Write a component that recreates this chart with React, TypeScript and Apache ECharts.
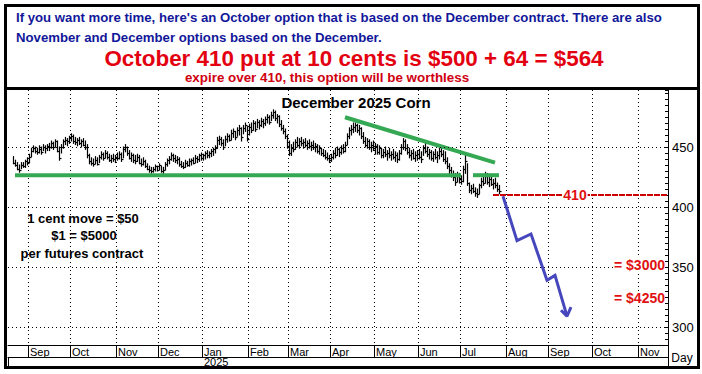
import React, { useEffect, useRef } from "react";
import * as echarts from "echarts";

// ---------- data ----------
const monthNames = ["Jan", "Feb", "Mar", "Apr", "May", "Jun", "Jul", "Aug", "Sep", "Oct", "Nov", "Dec"];
const axisStart = "2024-08-19"; // first trading-day slot on the axis
const axisDays = 330; // trading-day slots shown (through late Nov 2025)
const barStartIndex = 2; // first bar sits on the 3rd slot

const highs = [
  442, 439, 437, 435, 437, 437, 439, 441, 444,
  449, 451, 450, 449, 451, 450, 452, 451, 452, 453,
  455, 454, 456, 455, 450, 452, 456, 458, 457, 459,
  461, 460, 458, 457, 458, 456, 457, 455, 452, 444,
  441, 440, 442, 441, 443, 446, 445, 447, 446, 444,
  443, 444, 443, 445, 446, 445, 450, 452, 450, 447,
  445, 444, 443, 444, 443, 440, 441, 439, 436, 434,
  433, 433, 435, 434, 436, 434, 433, 437, 440, 442,
  445, 444, 443, 442, 441, 438, 437, 439, 438, 440,
  440, 441, 443, 442, 444, 445, 444, 446, 447, 446,
  448, 449, 451, 458, 459, 458, 456, 459, 461, 460,
  464, 465, 463, 466, 468, 466, 468, 470, 467, 469,
  470, 472, 471, 473, 472, 474, 473, 475, 477, 476,
  479, 481, 480, 477, 476, 472, 468, 465, 460, 455,
  452, 454, 456, 458, 457, 458, 456, 457, 455, 456,
  454, 455, 453, 452, 451, 449, 448, 447, 445, 443,
  444, 447, 449, 450, 449, 451, 452, 454, 461, 466,
  468, 470, 470, 469, 468, 466, 462, 458, 457, 456,
  454, 455, 453, 452, 451, 449, 448, 450, 447, 449,
  446, 448, 446, 445, 447, 452, 457, 456, 452, 449,
  447, 448, 446, 447, 448, 446, 451, 453, 450, 448,
  447, 446, 448, 446, 449, 450, 447, 446, 441, 436,
  433, 430, 428, 429, 428, 426, 434, 445, 436, 420,
  418, 419, 416, 415, 419, 424, 427, 429, 428, 425,
  426, 423, 424, 420, 418,
];
const lows = [
  436, 434, 431, 429, 432, 433, 433, 435, 437,
  442, 446, 445, 444, 445, 444, 447, 445, 447, 447,
  449, 448, 450, 446, 439, 445, 449, 452, 451, 453,
  455, 453, 452, 451, 452, 450, 451, 448, 441, 436,
  435, 434, 436, 435, 437, 440, 439, 441, 440, 438,
  437, 438, 437, 439, 440, 438, 441, 446, 443, 440,
  438, 437, 436, 438, 436, 434, 435, 433, 431, 429,
  428, 429, 430, 430, 431, 429, 428, 431, 434, 436,
  439, 438, 437, 436, 434, 433, 432, 433, 434, 434,
  435, 436, 437, 437, 438, 439, 439, 440, 441, 441,
  442, 443, 445, 449, 452, 451, 448, 451, 454, 455,
  456, 458, 456, 459, 460, 455, 461, 463, 455, 460,
  462, 464, 463, 466, 465, 467, 466, 468, 470, 469,
  472, 474, 472, 470, 467, 464, 461, 457, 449, 443,
  443, 446, 448, 450, 449, 451, 449, 450, 448, 449,
  447, 448, 446, 445, 444, 443, 442, 440, 439, 437,
  438, 440, 441, 443, 442, 444, 445, 446, 452, 457,
  460, 462, 463, 462, 460, 457, 453, 450, 449, 448,
  446, 447, 444, 444, 444, 441, 441, 442, 439, 441,
  439, 440, 438, 437, 439, 444, 448, 447, 444, 441,
  439, 440, 438, 439, 440, 437, 443, 445, 442, 440,
  439, 438, 440, 437, 440, 442, 438, 436, 432, 428,
  425, 422, 418, 421, 420, 419, 421, 428, 418, 412,
  411, 412, 409, 408, 411, 416, 418, 420, 419, 417,
  418, 415, 416, 413, 411,
];
const closes = [
  437, 435, 432, 431, 435, 434, 438, 437, 442,
  447, 449, 447, 446, 448, 446, 450, 449, 451, 450,
  453, 450, 455, 447, 441, 450, 455, 456, 455, 458,
  459, 455, 454, 456, 453, 455, 452, 450, 443, 438,
  437, 436, 439, 436, 442, 444, 441, 445, 442, 439,
  441, 440, 442, 441, 444, 440, 448, 450, 445, 441,
  443, 439, 438, 442, 437, 436, 438, 434, 432, 431,
  430, 432, 434, 431, 435, 430, 431, 436, 439, 440,
  443, 441, 439, 440, 436, 434, 433, 437, 435, 438,
  439, 437, 441, 440, 443, 441, 443, 445, 443, 445,
  447, 448, 449, 456, 457, 453, 450, 457, 459, 456,
  462, 463, 458, 464, 466, 458, 466, 468, 457, 467,
  464, 470, 465, 471, 468, 472, 470, 473, 475, 471,
  477, 479, 474, 476, 469, 466, 463, 459, 451, 445,
  449, 448, 454, 452, 455, 453, 454, 452, 453, 451,
  452, 450, 451, 447, 449, 445, 443, 442, 441, 439,
  442, 445, 443, 448, 446, 449, 447, 452, 459, 464,
  465, 467, 468, 464, 466, 459, 455, 452, 455, 450,
  452, 449, 451, 446, 449, 443, 446, 444, 445, 443,
  444, 442, 443, 440, 445, 450, 455, 449, 446, 443,
  445, 441, 443, 444, 442, 440, 449, 447, 444, 446,
  441, 444, 442, 443, 447, 444, 440, 438, 434, 431,
  427, 425, 421, 426, 423, 422, 432, 438, 420, 414,
  416, 413, 412, 411, 418, 422, 420, 426, 421, 423,
  419, 420, 418, 415, 413,
];

const priceTicks = [300, 350, 400, 450];
const supportLevel = 426.5;
const supportSegments = [
  [3, 226],
  [232, 245],
];
const trendLine = [
  [168, 474.8],
  [243, 437],
];
const strikeLevel = 410;
const strikeRange = [242, 329];
const projection = [
  [247, 409],
  [254, 372],
  [261, 377.5],
  [269, 339],
  [273, 343],
  [279, 309],
];
const arrowHead = [
  [276, 314],
  [279, 309],
  [281, 316.5],
];

// ---------- helpers ----------
function weekdays(start: string, n: number): string[] {
  const out: string[] = [];
  const d = new Date(start + "T00:00:00Z");
  while (out.length < n) {
    const wd = d.getUTCDay();
    if (wd !== 0 && wd !== 6) out.push(d.toISOString().slice(0, 10));
    d.setUTCDate(d.getUTCDate() + 1);
  }
  return out;
}

const dates = weekdays(axisStart, axisDays);
const isMonthStart = (i: number) => i > 0 && dates[i].slice(5, 7) !== dates[i - 1].slice(5, 7);
const isYearStart = (i: number) => i > 0 && dates[i].slice(0, 4) !== dates[i - 1].slice(0, 4);

const barData = highs.map((h, k) => [barStartIndex + k, h, lows[k], closes[k]]);

const FONT = '"Liberation Sans", Arial, Helvetica, sans-serif';
const BLUE = "#12179a";
const RED = "#e30010";
const GREEN = "#34a853";

export default function App() {
  const ref = useRef<HTMLDivElement>(null);

  useEffect(() => {
    if (!ref.current) return;
    const chart = echarts.init(ref.current, null, { renderer: "svg" });

    const dotted = { color: "#000", width: 1, type: [1, 3] as any };

    const option: any = {
      animation: false,
      backgroundColor: "#fff",
      grid: { left: 8, right: 34, top: 90, bottom: 29, containLabel: false },
      xAxis: [
        {
          type: "category",
          data: dates,
          boundaryGap: true,
          position: "bottom",
          axisLine: { show: true, lineStyle: { color: "#000", width: 1 } },
          axisTick: { show: true, interval: (i: number) => isMonthStart(i), length: 12, lineStyle: { color: "#000" } },
          axisLabel: {
            show: true,
            interval: (i: number) => isMonthStart(i),
            formatter: (v: string) => monthNames[parseInt(v.slice(5, 7), 10) - 1],
            align: "left",
            margin: 1,
            fontSize: 11,
            lineHeight: 11,
            color: "#000",
            fontFamily: FONT,
            padding: [0, 0, 0, 1],
          },
          splitLine: { show: true, interval: (i: number) => isMonthStart(i), lineStyle: dotted },
        },
        {
          type: "category",
          data: dates,
          boundaryGap: true,
          position: "bottom",
          offset: 12,
          axisLine: { show: true, lineStyle: { color: "#000", width: 1 } },
          axisTick: { show: true, interval: (i: number) => isYearStart(i), length: 11, lineStyle: { color: "#000" } },
          axisLabel: {
            show: true,
            interval: (i: number) => isYearStart(i),
            formatter: (v: string) => v.slice(0, 4),
            align: "left",
            margin: 0,
            fontSize: 11,
            lineHeight: 10,
            color: "#000",
            fontFamily: FONT,
            padding: [0, 0, 0, 1],
          },
          splitLine: { show: false },
        },
      ],
      yAxis: {
        type: "value",
        position: "right",
        min: 285,
        max: 497.5,
        interval: 5,
        axisLine: { show: true, lineStyle: { color: "#000", width: 1 } },
        axisTick: { show: true, inside: true, length: 3, lineStyle: { color: "#000" } },
        axisLabel: {
          formatter: (v: number) => (priceTicks.includes(v) ? String(v) : ""),
          margin: 4,
          fontSize: 13,
          color: "#000",
          fontFamily: FONT,
        },
        splitLine: { show: false },
      },
      series: [
        {
          type: "line",
          name: "grid",
          data: [],
          silent: true,
          markLine: {
            silent: true,
            symbol: "none",
            label: { show: false },
            lineStyle: dotted,
            data: priceTicks.map((p) => ({ yAxis: p })),
          },
        },
        {
          type: "custom",
          name: "December 2025 Corn",
          data: barData,
          encode: { x: 0, y: [1, 2, 3] },
          z: 3,
          renderItem: (_params: any, api: any) => {
            const i = api.value(0);
            const top = api.coord([i, api.value(1)]);
            const bot = api.coord([i, api.value(2)]);
            const cl = api.coord([i, api.value(3)]);
            const x = Math.round(top[0]) + 0.5;
            const cy = Math.round(cl[1]) + 0.5;
            return {
              type: "group",
              children: [
                { type: "line", shape: { x1: x, y1: top[1] - 0.5, x2: x, y2: bot[1] + 0.5 }, style: { stroke: "#000", lineWidth: 1.2 } },
                { type: "line", shape: { x1: x, y1: cy, x2: x + 2, y2: cy }, style: { stroke: "#000", lineWidth: 1.2 } },
              ],
            };
          },
        },
        ...supportSegments.map((s) => ({
          type: "line",
          data: [
            [s[0], supportLevel],
            [s[1], supportLevel],
          ],
          symbol: "none",
          z: 4,
          lineStyle: { color: GREEN, width: 4 },
        })),
        {
          type: "line",
          data: trendLine,
          symbol: "none",
          z: 4,
          lineStyle: { color: GREEN, width: 4 },
        },
        {
          type: "line",
          data: [
            [strikeRange[0], strikeLevel],
            [strikeRange[1], strikeLevel],
          ],
          symbol: "none",
          z: 4,
          lineStyle: { color: "#cc0000", width: 2, type: [6, 1] },
        },
        {
          type: "line",
          data: projection,
          symbol: "none",
          z: 5,
          lineStyle: { color: "#4747bd", width: 3, join: "miter" },
        },
        {
          type: "line",
          data: arrowHead,
          symbol: "none",
          z: 5,
          lineStyle: { color: "#4747bd", width: 3 },
        },
      ],
      graphic: [
        // frames
        { type: "rect", z: 100, shape: { x: 5.5, y: 5.5, width: 693, height: 83 }, style: { fill: "none", stroke: "#000", lineWidth: 3 } },
        { type: "rect", z: 100, shape: { x: 5.5, y: 88.5, width: 693, height: 279 }, style: { fill: "none", stroke: "#000", lineWidth: 3 } },
        { type: "line", z: 100, shape: { x1: 668.5, y1: 88, x2: 668.5, y2: 368 }, style: { stroke: "#000", lineWidth: 1 } },
        // header
        {
          type: "text", z: 100, x: 16, y: 17,
          style: { text: "If you want more time, here's an October option that is based on the December contract. There are also", font: `bold 13.2px ${FONT}`, fill: BLUE, textVerticalAlign: "middle" },
        },
        {
          type: "text", z: 100, x: 16, y: 37,
          style: { text: "November and December options based on the December.", font: `bold 13.2px ${FONT}`, fill: BLUE, textVerticalAlign: "middle" },
        },
        {
          type: "text", z: 100, x: 354, y: 58,
          style: { text: "October 410 put at 10 cents is $500 + 64 = $564", font: `bold 22.4px ${FONT}`, fill: RED, textAlign: "center", textVerticalAlign: "middle" },
        },
        {
          type: "text", z: 100, x: 327, y: 77.5,
          style: { text: "expire over 410, this option will be worthless", font: `bold 13.4px ${FONT}`, fill: "#d00010", textAlign: "center", textVerticalAlign: "middle" },
        },
        // chart annotations
        {
          type: "text", z: 100, x: 356, y: 102,
          style: { text: "December 2025 Corn", font: `bold 15px ${FONT}`, fill: "#000", textAlign: "center", textVerticalAlign: "middle" },
        },
        {
          type: "text", z: 100, x: 83, y: 218,
          style: { text: "1 cent move = $50", font: `bold 13px ${FONT}`, fill: "#000", textAlign: "center", textVerticalAlign: "middle" },
        },
        {
          type: "text", z: 100, x: 84, y: 235,
          style: { text: "$1 = $5000", font: `bold 13px ${FONT}`, fill: "#000", textAlign: "center", textVerticalAlign: "middle" },
        },
        {
          type: "text", z: 100, x: 82, y: 253,
          style: { text: "per futures contract", font: `bold 13px ${FONT}`, fill: "#000", textAlign: "center", textVerticalAlign: "middle" },
        },
        {
          type: "text", z: 100, x: 575, y: 195,
          style: { text: "410", font: `bold 14px ${FONT}`, fill: "#e01010", textAlign: "center", textVerticalAlign: "middle", backgroundColor: "#fff", padding: [0, 1] },
        },
        {
          type: "text", z: 100, x: 665, y: 265,
          style: { text: "= $3000", font: `bold 14px ${FONT}`, fill: "#e01010", textAlign: "right", textVerticalAlign: "middle", backgroundColor: "#fff" },
        },
        {
          type: "text", z: 100, x: 665, y: 298,
          style: { text: "= $4250", font: `bold 14px ${FONT}`, fill: "#e01010", textAlign: "right", textVerticalAlign: "middle", backgroundColor: "#fff" },
        },
        {
          type: "text", z: 100, x: 682, y: 358,
          style: { text: "Day", font: `12px ${FONT}`, fill: "#000", textAlign: "center", textVerticalAlign: "middle" },
        },
      ],
    };

    chart.setOption(option);
    return () => chart.dispose();
  }, []);

  return (
    <div
      ref={ref}
      style={{ position: "absolute", left: 0, top: 0, width: 702, height: 374, background: "#fff" }}
    />
  );
}
